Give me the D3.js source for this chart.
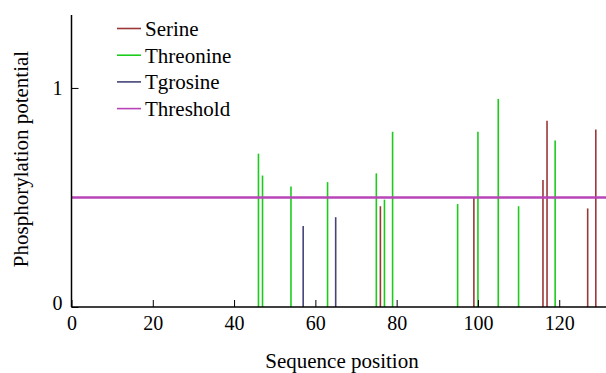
<!DOCTYPE html>
<html>
<head>
<meta charset="utf-8">
<script src="https://cdn.jsdelivr.net/npm/d3@7"></script>
<style>
  body { margin: 0; background: #fff; }
</style>
</head>
<body>
<div id="chart"></div>
<script>
// sequence positions and potentials per residue type
var serinePos = [76, 99, 116, 117, 127, 129],
    serineVal = [0.46, 0.50, 0.58, 0.85, 0.45, 0.81];
var threoninePos = [46, 47, 54, 63, 75, 77, 79, 95, 100, 105, 110, 119],
    threonineVal = [0.70, 0.60, 0.55, 0.57, 0.61, 0.49, 0.80, 0.47, 0.80, 0.95, 0.46, 0.76];
var tyrosinePos = [57, 65],
    tyrosineVal = [0.37, 0.41];
var threshold = 0.5;
var xTicks = [0, 20, 40, 60, 80, 100, 120],
    yTicks = [0, 1];
var seriesNames = ["Serine", "Threonine", "Tgrosine", "Threshold"];
var seriesColors = ["#9a3838", "#1ccc1c", "#444477", "#b844b8"];

var serif = "'Liberation Serif'";
var width = 606, height = 373;
var svg = d3.select("#chart").append("svg")
    .attr("width", width)
    .attr("height", height);

var x = d3.scaleLinear().domain([0, 132]).range([71.5, 608]);
var y = d3.scaleLinear().domain([0, 1.333]).range([307, 15]);

function toRows(pos, val, k) {
  return pos.map(function(p, i) { return {pos: p, value: val[i], k: k}; });
}
var bars = toRows(serinePos, serineVal, 0)
  .concat(toRows(threoninePos, threonineVal, 1))
  .concat(toRows(tyrosinePos, tyrosineVal, 2));

svg.append("g")
  .selectAll("line")
  .data(bars)
  .enter().append("line")
    .attr("x1", function(d) { return x(d.pos); })
    .attr("x2", function(d) { return x(d.pos); })
    .attr("y1", y(0))
    .attr("y2", function(d) { return y(d.value); })
    .attr("stroke", function(d) { return seriesColors[d.k]; })
    .attr("stroke-width", 1.6);

// threshold line
svg.append("line")
  .attr("x1", x(0))
  .attr("x2", width)
  .attr("y1", y(threshold))
  .attr("y2", y(threshold))
  .attr("stroke", seriesColors[3])
  .attr("stroke-width", 2.4);

var xAxis = svg.append("g")
  .attr("transform", "translate(0," + y(0) + ")")
  .call(d3.axisBottom(x).tickValues(xTicks).tickFormat(d3.format("d"))
    .tickSizeInner(-7).tickSizeOuter(0).tickPadding(9));
xAxis.select(".domain").attr("d", "M" + x(0) + ",0H" + width).attr("stroke-width", 1.5);

var yAxis = svg.append("g")
  .attr("transform", "translate(" + x(0) + ",0)")
  .call(d3.axisLeft(y).tickValues(yTicks).tickFormat(d3.format("d"))
    .tickSizeInner(-7).tickSizeOuter(0).tickPadding(9));
yAxis.select(".domain").attr("d", "M0," + y(0) + "V15").attr("stroke-width", 1.5);
yAxis.selectAll(".tick").filter(function(d) { return d == 0; }).select("text").attr("dy", "0.1em");

[xAxis, yAxis].forEach(function(ax) {
  ax.attr("font-family", serif).attr("font-size", 20);
  ax.selectAll("text").attr("font-family", serif).attr("font-size", 20);
});

svg.append("text")
  .attr("x", 342)
  .attr("y", 368)
  .attr("text-anchor", "middle")
  .attr("font-family", serif)
  .attr("font-size", 21)
  .text("Sequence position");

svg.append("text")
  .attr("transform", "translate(28,159)rotate(-90)")
  .attr("text-anchor", "middle")
  .attr("font-family", serif)
  .attr("font-size", 21)
  .text("Phosphorylation potential");

var legend = svg.append("g")
  .selectAll("g")
  .data(seriesNames)
  .enter().append("g")
    .attr("transform", function(d, i) { return "translate(117," + (28.5 + i * 26.7) + ")"; });

legend.append("line")
  .attr("x1", 0)
  .attr("x2", 24)
  .attr("stroke", function(d, i) { return seriesColors[i]; })
  .attr("stroke-width", 1.6);

legend.append("text")
  .attr("x", 28)
  .attr("dy", "0.35em")
  .attr("font-family", serif)
  .attr("font-size", 21)
  .text(function(d) { return d; });
</script>
</body>
</html>
